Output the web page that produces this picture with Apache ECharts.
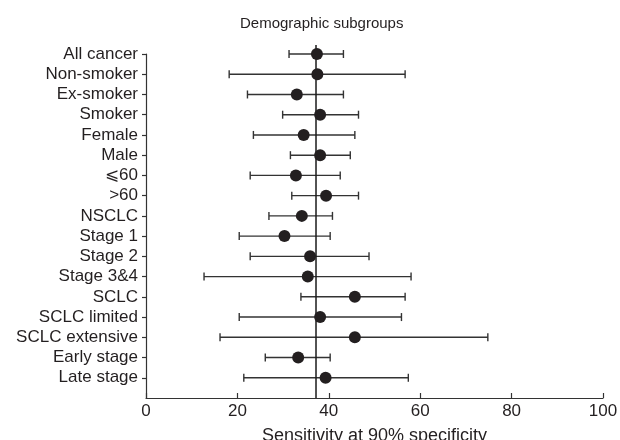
<!DOCTYPE html>
<html>
<head>
<meta charset="utf-8">
<script src="https://cdn.jsdelivr.net/npm/echarts@6/dist/echarts.min.js"></script>
<style>
  html, body { margin: 0; padding: 0; background: #fff; }
  #chart { width: 620px; height: 440px; }
</style>
</head>
<body>
<div id="chart"></div>
<script>
// subgroups, top to bottom
const categories = ['All cancer', 'Non-smoker', 'Ex-smoker', 'Smoker', 'Female', 'Male', '\u2A7D60', '>60',
    'NSCLC', 'Stage 1', 'Stage 2', 'Stage 3&4', 'SCLC', 'SCLC limited', 'SCLC extensive', 'Early stage', 'Late stage']
const estimates = [37.4, 37.5, 33.0, 38.1, 34.5, 38.1, 32.8, 39.4, 34.1, 30.3, 35.9, 35.4, 45.7, 38.1, 45.7, 33.3, 39.3]
const lower = [31.3, 18.2, 22.2, 29.9, 23.5, 31.6, 22.8, 31.9, 26.9, 20.4, 22.8, 12.7, 33.9, 20.4, 16.2, 26.1, 21.4]
const upper = [43.2, 56.7, 43.2, 46.5, 45.7, 44.7, 42.5, 46.5, 40.8, 40.3, 48.8, 58.0, 56.7, 55.9, 74.8, 40.3, 57.4]
const overall = 37.2 //参考线
const xTicks = [0, 20, 40, 60, 80, 100]

const n = categories.length
// y 位置：最上面一行 = n，最下面一行 = 1
const rowPos = categories.map((c, i) => n - i)

const textColor = '#231f20'
const fontFamily = '"Liberation Sans", Arial, sans-serif'

let myChart = echarts.init(document.getElementById('chart'))

let options = {
    animation: false,
    backgroundColor: '#fff',
    title: {
        text: 'Demographic subgroups',
        left: 235,
        top: 11,
        textStyle: { fontSize: 15, fontWeight: 'normal', color: textColor, fontFamily: fontFamily }
    },
    grid: { left: 146, right: 17, top: 54, bottom: 42, outerBoundsMode: 'none' },
    xAxis: {
        type: 'value',
        min: xTicks[0],
        max: xTicks[xTicks.length - 1],
        interval: 20,
        name: 'Sensitivity at 90% specificity',
        nameLocation: 'middle',
        nameGap: 29,
        nameTextStyle: { fontSize: 18, color: textColor, fontFamily: fontFamily },
        axisLine: { lineStyle: { color: '#333', width: 1.2 } },
        axisTick: { inside: true, length: 5, lineStyle: { color: '#333', width: 1.2 } },
        axisLabel: { fontSize: 17, color: textColor, margin: 5, fontFamily: fontFamily },
        splitLine: { show: false }
    },
    yAxis: {
        type: 'value',
        min: 0,
        max: n,
        interval: 1,
        axisLine: { show: true, lineStyle: { color: '#333', width: 1.2 } },
        axisTick: { show: true, length: 4, customValues: rowPos, lineStyle: { color: '#333', width: 1.2 } },
        axisLabel: {
            customValues: rowPos,
            fontSize: 17,
            color: textColor,
            margin: 8,
            fontFamily: fontFamily,
            formatter: v => categories[n - v]
        },
        splitLine: { show: false }
    },
    series: [
        {
            // 置信区间
            type: 'custom',
            data: categories.map((c, i) => [lower[i], upper[i], rowPos[i]]),
            renderItem(params, api) {
                const y = api.value(2)
                const lo = api.coord([api.value(0), y])
                const hi = api.coord([api.value(1), y])
                const cap = 4
                const style = { stroke: '#333', lineWidth: 1.4 }
                return {
                    type: 'group',
                    children: [
                        { type: 'line', shape: { x1: lo[0], y1: lo[1], x2: hi[0], y2: hi[1] }, style: style },
                        { type: 'line', shape: { x1: lo[0], y1: lo[1] - cap, x2: lo[0], y2: lo[1] + cap }, style: style },
                        { type: 'line', shape: { x1: hi[0], y1: hi[1] - cap, x2: hi[0], y2: hi[1] + cap }, style: style }
                    ]
                }
            },
            z: 2
        },
        {
            type: 'line',
            data: [[overall, 0], [overall, n + 0.45]],
            clip: false,
            symbol: 'none',
            lineStyle: { color: '#1a1a1a', width: 1.5 },
            z: 3
        },
        {
            type: 'scatter',
            data: categories.map((c, i) => [estimates[i], rowPos[i]]),
            symbolSize: 12,
            itemStyle: { color: textColor, opacity: 1 },
            z: 4
        }
    ]
}

myChart.setOption(options)
</script>
</body>
</html>
